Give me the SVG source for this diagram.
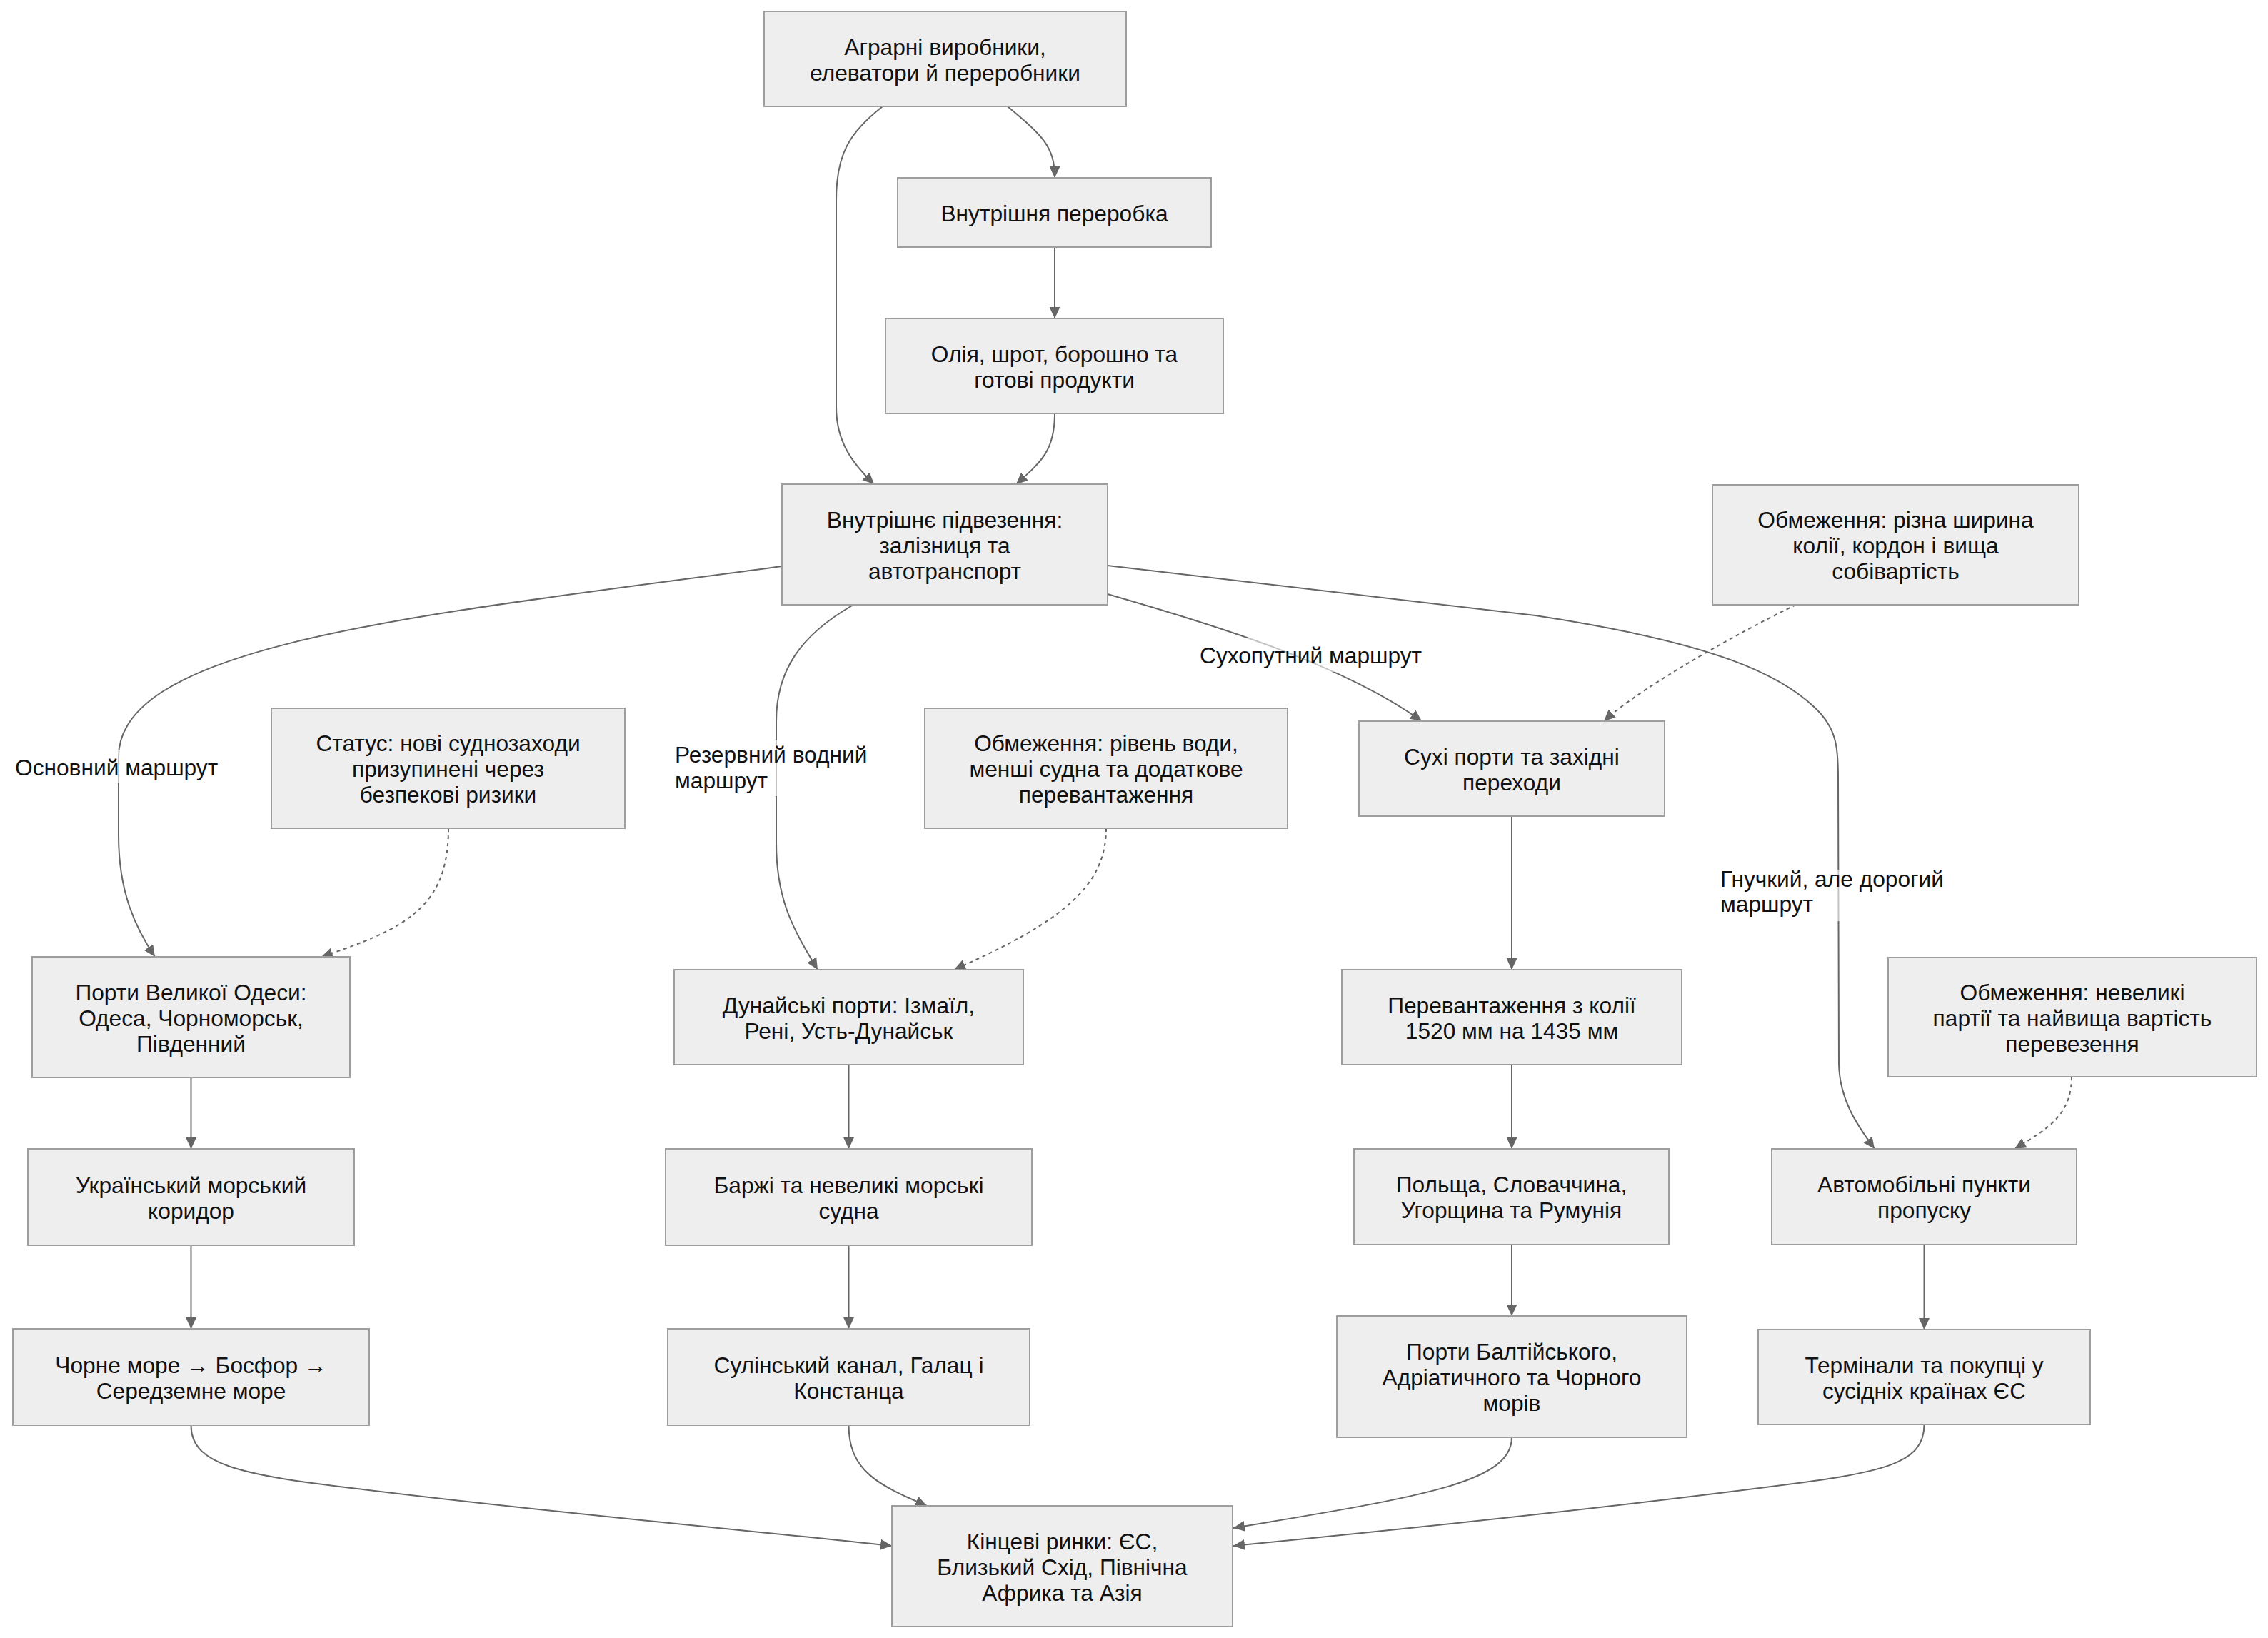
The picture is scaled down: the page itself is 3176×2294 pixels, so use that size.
<svg xmlns="http://www.w3.org/2000/svg" width="3176" height="2294" viewBox="0 0 3176 2294">
<style>
.node rect{fill:#eeeeee;stroke:#9e9e9e;stroke-width:2}
text{font-family:"Liberation Sans",Arial,sans-serif;font-size:31.7px;fill:#111}
.node text{text-anchor:middle}
.edge{fill:none;stroke:#666;stroke-width:2}
.dot{stroke-dasharray:5 5}
.lbg{fill:#fff;fill-opacity:0.6}
</style>
<defs>
<marker id="ah" markerUnits="userSpaceOnUse" markerWidth="16" markerHeight="15" refX="16" refY="7.5" orient="auto">
<path d="M0,0 L16,7.5 L0,15 z" fill="#666"/>
</marker>
</defs>
<rect width="3176" height="2294" fill="#fff"/>
<g id="edges">
<path class="edge" d="M1411,149 C1460,190 1477,205 1477,249" marker-end="url(#ah)"/>
<path class="edge" d="M1236,149 C1190,185 1171,215 1171,280 L1171,570 C1171,620 1195,650 1224,678" marker-end="url(#ah)"/>
<path class="edge" d="M1477,346 L1477,446" marker-end="url(#ah)"/>
<path class="edge" d="M1477,579 C1477,630 1460,645 1423,678" marker-end="url(#ah)"/>
<path class="edge" d="M1095,793 C600,860 166,900 166,1060 L166,1170 C166,1250 190,1300 217,1340" marker-end="url(#ah)"/>
<path class="edge" d="M1195,847 C1120,890 1087,940 1087,1010 L1087,1180 C1087,1260 1110,1300 1145,1358" marker-end="url(#ah)"/>
<path class="edge" d="M1551,832 C1700,875 1880,930 1991,1010" marker-end="url(#ah)"/>
<path class="edge" d="M1551,792 L2150,862 C2400,900 2500,945 2550,1000 C2572,1025 2574,1050 2574,1090 L2575,1490 C2576,1540 2600,1575 2625,1609" marker-end="url(#ah)"/>
<path class="edge dot" d="M628,1160 C628,1270 570,1300 450,1340" marker-end="url(#ah)"/>
<path class="edge dot" d="M1549,1160 C1549,1240 1490,1290 1336,1358" marker-end="url(#ah)"/>
<path class="edge dot" d="M2515,847 C2450,878 2300,960 2246,1010" marker-end="url(#ah)"/>
<path class="edge dot" d="M2901,1508 C2901,1560 2870,1580 2821,1609" marker-end="url(#ah)"/>
<path class="edge" d="M267.5,1509 L267.5,1609" marker-end="url(#ah)"/>
<path class="edge" d="M267.5,1744 L267.5,1861" marker-end="url(#ah)"/>
<path class="edge" d="M1188.5,1491 L1188.5,1609" marker-end="url(#ah)"/>
<path class="edge" d="M1188.5,1744 L1188.5,1861" marker-end="url(#ah)"/>
<path class="edge" d="M2117,1143 L2117,1358" marker-end="url(#ah)"/>
<path class="edge" d="M2117,1491 L2117,1609" marker-end="url(#ah)"/>
<path class="edge" d="M2117,1743 L2117,1843" marker-end="url(#ah)"/>
<path class="edge" d="M2694.5,1743 L2694.5,1862" marker-end="url(#ah)"/>
<path class="edge" d="M267.5,1996 C267.5,2050 330,2065 500,2085 C800,2122 1100,2148 1249,2165" marker-end="url(#ah)"/>
<path class="edge" d="M1188.5,1996 C1188.5,2060 1230,2080 1298,2109" marker-end="url(#ah)"/>
<path class="edge" d="M2117,2013 C2117,2075 2000,2095 1727,2140" marker-end="url(#ah)"/>
<path class="edge" d="M2694.5,1995 C2694.5,2050 2640,2062 2480,2082 C2200,2118 1900,2148 1727,2165" marker-end="url(#ah)"/>
</g>
<g id="edge-labels">
<rect class="lbg" x="18" y="1050" width="284" height="47"/>
<text x="21" y="1086">Основний маршрут</text>
<rect class="lbg" x="942" y="1036" width="277" height="79"/>
<text x="945" y="1068">Резервний водний</text>
<text x="945" y="1104">маршрут</text>
<rect class="lbg" x="1677" y="893" width="315" height="48"/>
<text x="1680" y="929">Сухопутний маршрут</text>
<rect class="lbg" x="2406" y="1218" width="329" height="72"/>
<text x="2409" y="1242">Гнучкий, але дорогий</text>
<text x="2409" y="1277">маршрут</text>
</g>
<g id="A" class="node"><rect x="1070" y="16" width="507" height="133"/><text x="1323.5" y="76.5">Аграрні виробники,</text><text x="1323.5" y="112.5">елеватори й переробники</text></g>
<g id="B" class="node"><rect x="1257" y="249" width="439" height="97"/><text x="1476.5" y="309.5">Внутрішня переробка</text></g>
<g id="C" class="node"><rect x="1240" y="446" width="473" height="133"/><text x="1476.5" y="506.5">Олія, шрот, борошно та</text><text x="1476.5" y="542.5">готові продукти</text></g>
<g id="D" class="node"><rect x="1095" y="678" width="456" height="169"/><text x="1323" y="738.5">Внутрішнє підвезення:</text><text x="1323" y="774.5">залізниця та</text><text x="1323" y="810.5">автотранспорт</text></g>
<g id="E" class="node"><rect x="2398" y="679" width="513" height="168"/><text x="2654.5" y="739">Обмеження: різна ширина</text><text x="2654.5" y="775">колії, кордон і вища</text><text x="2654.5" y="811">собівартість</text></g>
<g id="F" class="node"><rect x="380" y="992" width="495" height="168"/><text x="627.5" y="1052">Статус: нові суднозаходи</text><text x="627.5" y="1088">призупинені через</text><text x="627.5" y="1124">безпекові ризики</text></g>
<g id="G" class="node"><rect x="1295" y="992" width="508" height="168"/><text x="1549" y="1052">Обмеження: рівень води,</text><text x="1549" y="1088">менші судна та додаткове</text><text x="1549" y="1124">перевантаження</text></g>
<g id="H" class="node"><rect x="1903" y="1010" width="428" height="133"/><text x="2117" y="1070.5">Сухі порти та західні</text><text x="2117" y="1106.5">переходи</text></g>
<g id="I" class="node"><rect x="45" y="1340" width="445" height="169"/><text x="267.5" y="1400.5">Порти Великої Одеси:</text><text x="267.5" y="1436.5">Одеса, Чорноморськ,</text><text x="267.5" y="1472.5">Південний</text></g>
<g id="J" class="node"><rect x="944" y="1358" width="489" height="133"/><text x="1188.5" y="1418.5">Дунайські порти: Ізмаїл,</text><text x="1188.5" y="1454.5">Рені, Усть-Дунайськ</text></g>
<g id="K" class="node"><rect x="1879" y="1358" width="476" height="133"/><text x="2117" y="1418.5">Перевантаження з колії</text><text x="2117" y="1454.5">1520 мм на 1435 мм</text></g>
<g id="L" class="node"><rect x="2644" y="1341" width="516" height="167"/><text x="2902" y="1400.5">Обмеження: невеликі</text><text x="2902" y="1436.5">партії та найвища вартість</text><text x="2902" y="1472.5">перевезення</text></g>
<g id="M" class="node"><rect x="39" y="1609" width="457" height="135"/><text x="267.5" y="1670.5">Український морський</text><text x="267.5" y="1706.5">коридор</text></g>
<g id="N" class="node"><rect x="932" y="1609" width="513" height="135"/><text x="1188.5" y="1670.5">Баржі та невеликі морські</text><text x="1188.5" y="1706.5">судна</text></g>
<g id="O" class="node"><rect x="1896" y="1609" width="441" height="134"/><text x="2116.5" y="1670">Польща, Словаччина,</text><text x="2116.5" y="1706">Угорщина та Румунія</text></g>
<g id="P" class="node"><rect x="2481" y="1609" width="427" height="134"/><text x="2694.5" y="1670">Автомобільні пункти</text><text x="2694.5" y="1706">пропуску</text></g>
<g id="Q" class="node"><rect x="18" y="1861" width="499" height="135"/><text x="267.5" y="1922.5">Чорне море → Босфор →</text><text x="267.5" y="1958.5">Середземне море</text></g>
<g id="R" class="node"><rect x="935" y="1861" width="507" height="135"/><text x="1188.5" y="1922.5">Сулінський канал, Галац і</text><text x="1188.5" y="1958.5">Констанца</text></g>
<g id="S" class="node"><rect x="1872" y="1843" width="490" height="170"/><text x="2117" y="1904">Порти Балтійського,</text><text x="2117" y="1940">Адріатичного та Чорного</text><text x="2117" y="1976">морів</text></g>
<g id="T" class="node"><rect x="2462" y="1862" width="465" height="133"/><text x="2694.5" y="1922.5">Термінали та покупці у</text><text x="2694.5" y="1958.5">сусідніх країнах ЄС</text></g>
<g id="U" class="node"><rect x="1249" y="2109" width="477" height="169"/><text x="1487.5" y="2169.5">Кінцеві ринки: ЄС,</text><text x="1487.5" y="2205.5">Близький Схід, Північна</text><text x="1487.5" y="2241.5">Африка та Азія</text></g>
</svg>
